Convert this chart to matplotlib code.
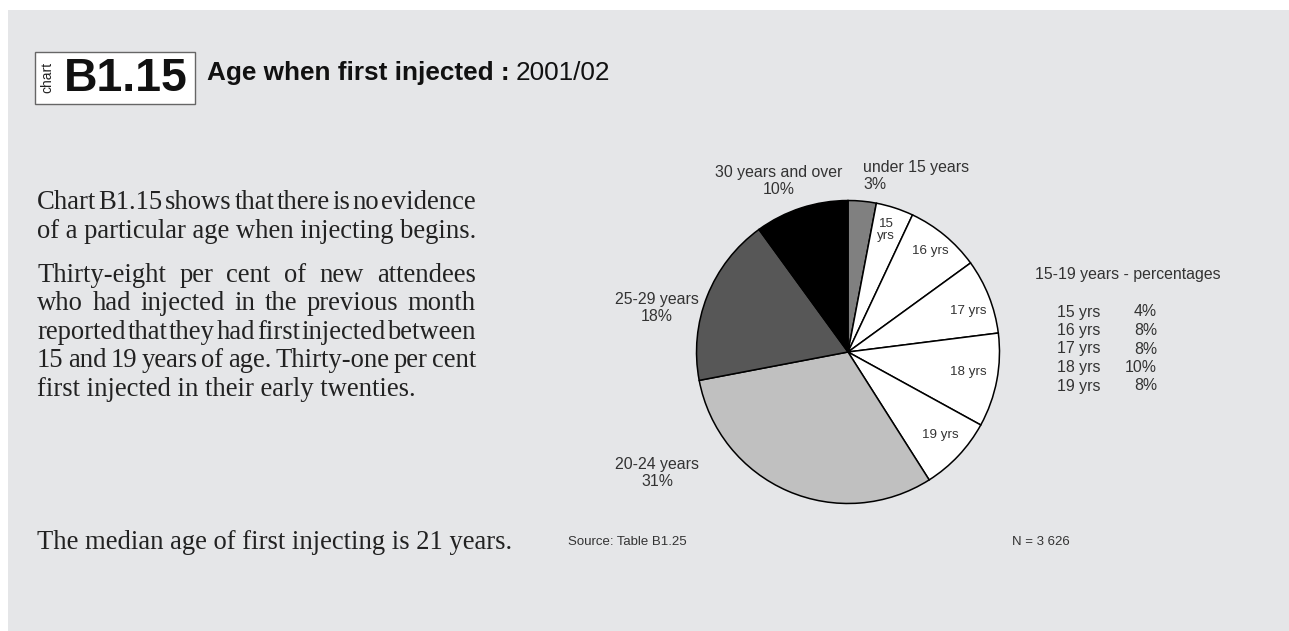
import matplotlib
matplotlib.use('Agg')
import matplotlib.pyplot as plt
from matplotlib.patches import Rectangle

plt.rcParams.update({
    'font.family': 'Liberation Sans',
    'text.color': '#222222',
})

# Dados do gráfico (fatias no sentido horário a partir das 12h)
slice_names = ['under 15 years', '15 yrs', '16 yrs', '17 yrs', '18 yrs', '19 yrs',
               '20-24 years', '25-29 years', '30 years and over']
slice_values = [3, 4, 8, 8, 10, 8, 31, 18, 10]
slice_colors = ['#808080', 'white', 'white', 'white', 'white', 'white',
                '#c0c0c0', '#575757', 'black']

teen_labels = ['15 yrs', '16 yrs', '17 yrs', '18 yrs', '19 yrs']
teen_values = [4, 8, 8, 10, 8]

para1_lines = ['Chart B1.15 shows that there is no evidence',
               'of a particular age when injecting begins.']
para2_lines = ['Thirty-eight per cent of new attendees',
               'who had injected in the previous month',
               'reported that they had first injected between',
               '15 and 19 years of age. Thirty-one per cent',
               'first injected in their early twenties.']

W, H = 1289, 631
fig = plt.figure(figsize=(W / 100, H / 100), dpi=100)
fig.patch.set_facecolor('white')

# fundo cinza (atrás de tudo)
fig.add_artist(Rectangle((8 / W, 0), 1, 1 - 10 / H, transform=fig.transFigure,
                         facecolor='#e5e6e8', edgecolor='none', zorder=-1))

# pizza (criada antes do eixo de textos para ficar por baixo)
cx, cy, r = 848, 352, 153
pax = fig.add_axes([(cx - r) / W, (H - cy - r) / H, 2 * r / W, 2 * r / H])
pax.pie(slice_values, colors=slice_colors, startangle=90, counterclock=False,
        radius=1, wedgeprops=dict(edgecolor='black', linewidth=1.1))
pax.set_xlim(-1.01, 1.01)
pax.set_ylim(-1.01, 1.01)
pax.axis('off')

ax = fig.add_axes([0, 0, 1, 1])
ax.set_xlim(0, W)
ax.set_ylim(H, 0)
ax.axis('off')

# caixa do cabeçalho
ax.add_patch(Rectangle((35, 52), 160, 52, facecolor='white', edgecolor='#666666', lw=1))
ax.text(47, 77, 'chart', rotation=90, fontsize=10, ha='center', va='center')
ax.text(126, 79, 'B1.15', fontsize=33.5, fontweight='bold', ha='center', va='center',
        color='#111111')

renderer = fig.canvas.get_renderer()
t = ax.text(207, 73, 'Age when first injected :', fontsize=18.8, fontweight='bold',
            va='center', color='#111111')
bb = t.get_window_extent(renderer)
ax.text(207 + bb.width + 6, 73, '2001/02', fontsize=18.8, va='center', color='#111111')

serif = 'Liberation Serif'
body_size = 19.2
x_left, x_right = 37, 476


def justify(line, y, last=False):
    if last:
        ax.text(x_left, y, line, fontsize=body_size, family=serif, va='baseline',
                color='#222222')
        return
    words = line.split()
    widths = []
    objs = []
    for w in words:
        o = ax.text(0, y, w, fontsize=body_size, family=serif, va='baseline',
                    color='#222222')
        widths.append(o.get_window_extent(renderer).width)
        objs.append(o)
    gap = (x_right - x_left - sum(widths)) / (len(words) - 1)
    x = x_left
    for o, w in zip(objs, widths):
        o.set_x(x)
        x += w + gap


y = 209
for i, line in enumerate(para1_lines):
    justify(line, y, last=(i == len(para1_lines) - 1))
    y += 28.5
y = 282
for i, line in enumerate(para2_lines):
    justify(line, y, last=(i == len(para2_lines) - 1))
    y += 28.4

ax.text(x_left, 549, 'The median age of first injecting is 21 years.', fontsize=body_size,
        family=serif, va='baseline', color='#222222')

lab = dict(fontsize=11.4, color='#333333', linespacing=1.2)
ax.text(779, 181, '30 years and over\n10%', ha='center', va='center', **lab)
ax.text(863, 176, 'under 15 years\n3%', ha='left', va='center', **lab)
ax.text(657, 308, '25-29 years\n18%', ha='center', va='center', **lab)
ax.text(657, 473, '20-24 years\n31%', ha='center', va='center', **lab)

inner = dict(fontsize=9.6, color='#333333', ha='center', va='center')
ax.text(886, 230, '15\nyrs', linespacing=1.0, **inner)
ax.text(930, 251, '16 yrs', **inner)
ax.text(968, 311, '17 yrs', **inner)
ax.text(968, 372, '18 yrs', **inner)
ax.text(940, 435, '19 yrs', **inner)

# legenda 15-19
ax.text(1035, 275, '15-19 years - percentages', fontsize=11.4, va='center', color='#333333')
for i, (name, val) in enumerate(zip(teen_labels, teen_values)):
    yy = 312 + i * 18.5
    ax.text(1057, yy, name, fontsize=11.4, va='center', color='#333333')
    ax.text(1157, yy, f'{val}%', fontsize=11.4, va='center', ha='right', color='#333333')

ax.text(568, 542, 'Source: Table B1.25', fontsize=9.5, va='center', color='#333333')
ax.text(1012, 542, 'N = 3 626', fontsize=9.5, va='center', color='#333333')

fig.savefig('out.png', dpi=100, facecolor=fig.get_facecolor())
